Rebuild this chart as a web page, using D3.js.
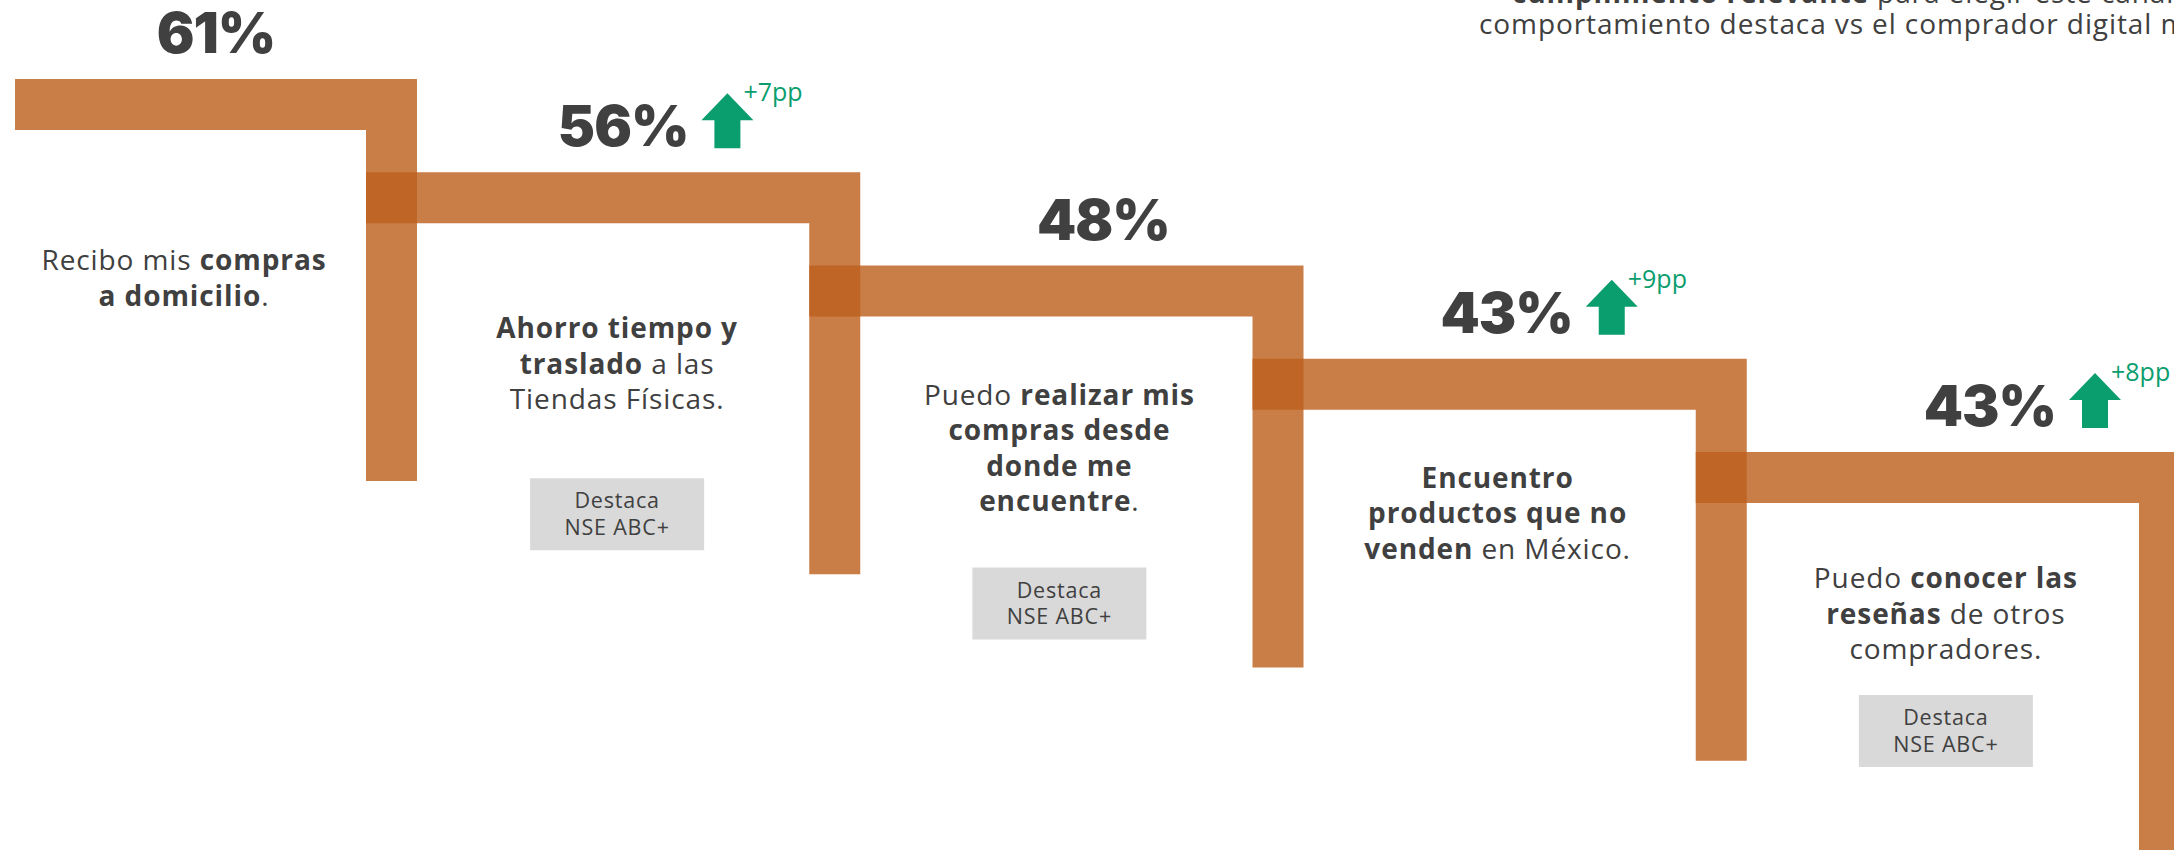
<!DOCTYPE html>
<html>
<head>
<meta charset="utf-8">
<script src="https://cdn.jsdelivr.net/npm/d3@7"></script>
<style>
  html, body { margin: 0; padding: 0; background: #fff; overflow: hidden; }
  svg { display: block; }
  text { font-family: "Open Sans", "Noto Sans", sans-serif; fill: #404040; }
</style>
</head>
<body>
<svg id="chart" width="2174" height="850"></svg>
<script>
// values
var values = [61, 56, 48, 43, 43];
var deltas = [null, 7, null, 9, 8];
var badges = [false, true, true, false, true];
var badgeLines = ["Destaca", "NSE ABC+"];
var descLines = [
    ["Recibo mis **compras**", "**a domicilio**."],
    ["**Ahorro tiempo y**", "**traslado** a las", "Tiendas Físicas."],
    ["Puedo **realizar mis**", "**compras desde**", "**donde me**", "**encuentre**."],
    ["**Encuentro**", "**productos que no**", "**venden** en México."],
    ["Puedo **conocer las**", "**reseñas** de otros", "compradores."]
];
var noteLines = [
    "**cumplimiento relevante** para elegir este canal, incluso este",
    "comportamiento destaca vs el comprador digital mexicano."
];

// layout tweaks per step (offsets from the step centre)
var labelDx = [0, 10, 47, 7, 47];
var textDx = [-32, 4, 3, -2, 3];
var textDy = [191, 166, 139, 129, 136];
var badgeDy = [0, 306, 302, 0, 243];

var svg = d3.select("#chart");
var thick = 51, drop = 402, lineH = 35.5;

var xRight = d3.scaleLinear().domain([0, 4]).range([417, 2190]);
var yTop = d3.scaleLinear().domain([0, 4]).range([79, 452]);

var left = function (i) { return i == 0 ? 15 : xRight(i - 1) - thick; };
var centre = function (i) { return (left(i) + xRight(i)) / 2; };

// the staircase
svg.append("g").selectAll("path")
    .data(values)
    .enter().append("path")
    .attr("fill", "rgb(189,96,30)")
    .attr("fill-opacity", 0.82)
    .attr("d", function (d, i) {
        var l = left(i), r = xRight(i), t = yTop(i);
        return "M" + l + "," + t + "H" + r + "V" + (t + drop) + "H" + (r - thick) +
            "V" + (t + thick) + "H" + l + "Z";
    });

// write a line with **bold** parts as tspans
var richLine = function (sel, str) {
    str.split("**").forEach(function (part, k) {
        if (part == "") return;
        sel.append("tspan")
            .attr("font-weight", k % 2 == 1 ? 700 : 400)
            .text(part);
    });
};

// percentages + arrows
var labels = svg.append("g");
values.forEach(function (v, i) {
    var cx = centre(i) + labelDx[i];
    var base = yTop(i) - 26;
    var t = labels.append("text")
        .attr("x", cx)
        .attr("y", base)
        .attr("text-anchor", "middle")
        .style("font-family", "Inter, 'Open Sans', sans-serif")
        .style("font-size", "56px")
        .style("font-weight", 900)
        .style("letter-spacing", "-1px")
        .text(v + "%");

    if (deltas[i] != null) {
        var w = t.node().getComputedTextLength();
        var ax = cx + w / 2 + 13, ab = base + 2;
        labels.append("path")
            .attr("fill", "#0a9d6d")
            .attr("d", "M" + (ax + 13) + "," + ab + "V" + (ab - 28) + "H" + ax +
                "L" + (ax + 26) + "," + (ab - 55) + "L" + (ax + 52) + "," + (ab - 28) +
                "H" + (ax + 39) + "V" + ab + "Z");
        labels.append("text")
            .attr("x", ax + 42)
            .attr("y", ab - 47)
            .style("fill", "#0a9d6d")
            .style("font-size", "25px")
            .text("+" + deltas[i] + "pp");
    }
});

// descriptions
var desc = svg.append("g");
descLines.forEach(function (lines, i) {
    var cx = centre(i) + textDx[i];
    lines.forEach(function (line, j) {
        var tl = desc.append("text")
            .attr("text-anchor", "middle")
            .attr("x", cx)
            .attr("y", yTop(i) + textDy[i] + j * lineH)
            .style("font-size", "28px")
            .style("letter-spacing", "0.9px");
        richLine(tl, line);
    });

    if (badges[i]) {
        var by = yTop(i) + badgeDy[i];
        desc.append("rect")
            .attr("x", cx - 87)
            .attr("y", by)
            .attr("width", 174)
            .attr("height", 72)
            .attr("fill", "#d9d9d9");
        badgeLines.forEach(function (d, k) {
            desc.append("text")
                .attr("text-anchor", "middle")
                .attr("x", cx)
                .attr("y", by + 30 + k * 26.5)
                .style("font-size", "21.5px")
                .style("letter-spacing", "0.8px")
                .text(d);
        });
    }
});

// cut-off note at the top right
var note = svg.append("g");
noteLines.forEach(function (line, j) {
    var t = note.append("text")
        .attr("x", j == 0 ? 1512 : 1479)
        .attr("y", 3 + j * 31)
        .style("font-size", "28px")
        .style("letter-spacing", "0.9px");
    richLine(t, line);
});
</script>
</body>
</html>
